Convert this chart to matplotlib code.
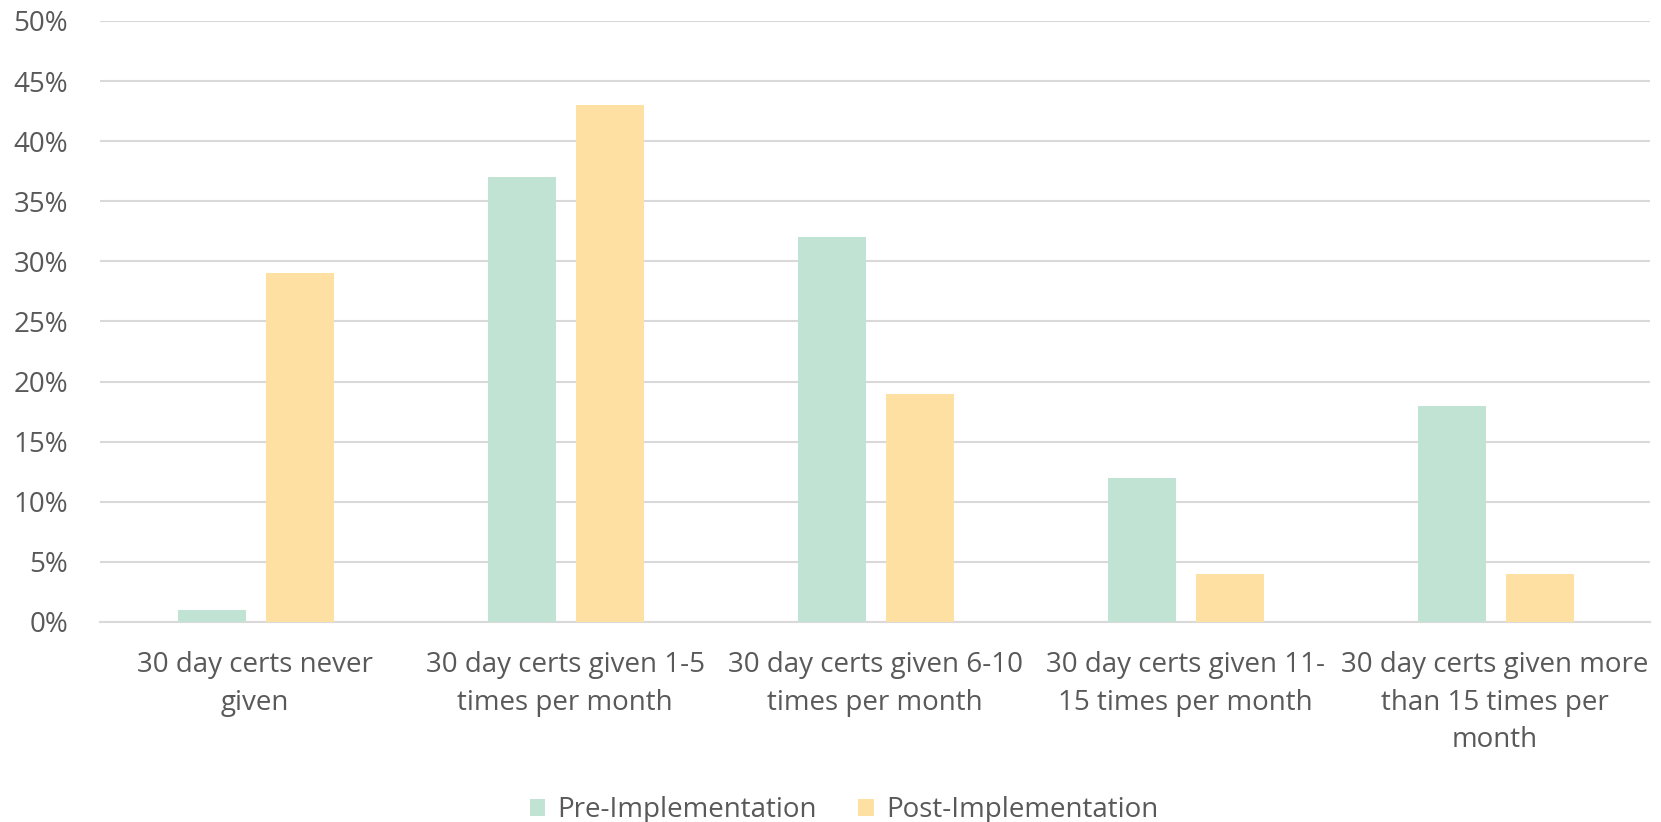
import matplotlib.pyplot as plt
import numpy as np
from matplotlib.ticker import PercentFormatter

categories = [
    "30 day certs never\ngiven",
    "30 day certs given 1-5\ntimes per month",
    "30 day certs given 6-10\ntimes per month",
    "30 day certs given 11-\n15 times per month",
    "30 day certs given more\nthan 15 times per\nmonth",
]
pre = [1, 37, 32, 12, 18]
post = [29, 43, 19, 4, 4]

plt.rcParams['font.family'] = ['Open Sans', 'DejaVu Sans']
txt = '#595959'
fs = 20

fig = plt.figure(figsize=(16.61, 8.22), dpi=100)
ax = fig.add_axes([100 / 1661, 1 - 622 / 822, 1550 / 1661, 601 / 822])

x = np.arange(len(categories))
w = 0.22
ax.bar(x - 0.14, pre, w, color='#C0E3D3', label='Pre-Implementation', zorder=3)
ax.bar(x + 0.145, post, w, color='#FFE0A3', label='Post-Implementation', zorder=3)

ax.set_xlim(-0.5, 4.5)
ax.set_ylim(0, 50)
ax.set_yticks(range(0, 51, 5))
ax.yaxis.set_major_formatter(PercentFormatter(decimals=0))
ax.grid(axis='y', color='#D9D9D9', linewidth=1.5, zorder=0)
for s in ['top', 'right', 'left']:
    ax.spines[s].set_visible(False)
ax.spines['bottom'].set_color('#D9D9D9')
ax.spines['bottom'].set_linewidth(1.5)
ax.set_xticks(x)
ax.set_xticklabels(categories, linespacing=1.45)
ax.tick_params(axis='both', length=0, labelsize=fs, colors=txt)
ax.tick_params(axis='x', pad=21)
ax.tick_params(axis='y', pad=23)

ax.legend(loc='lower center', bbox_to_anchor=(0.48, -0.378), ncol=2, frameon=False,
          fontsize=fs, labelcolor=txt, handlelength=0.55, handleheight=0.55,
          columnspacing=1.5, handletextpad=0.45)

fig.savefig('out.png')
